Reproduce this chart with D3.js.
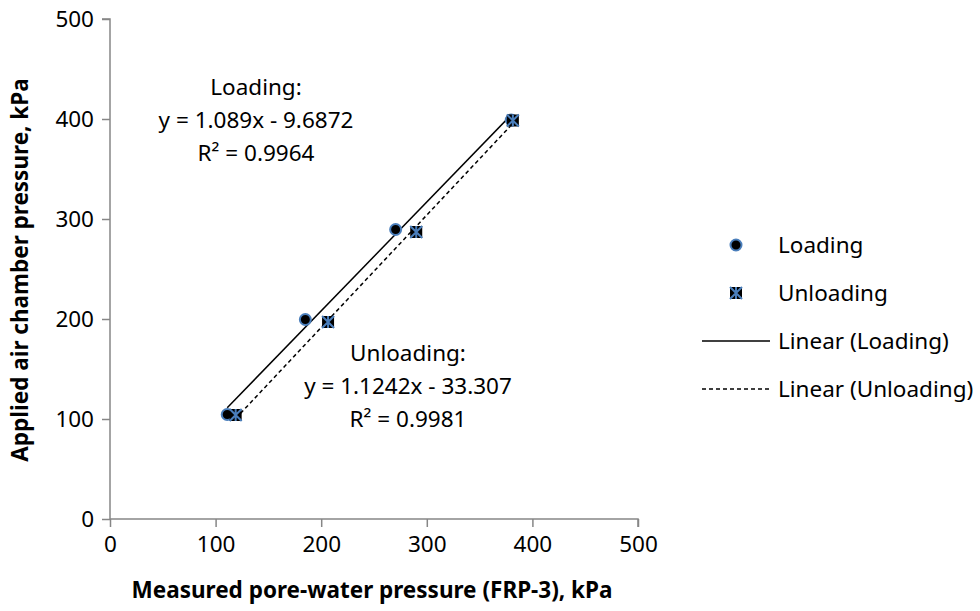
<!DOCTYPE html>
<html>
<head>
<meta charset="utf-8">
<script src="https://cdn.jsdelivr.net/npm/d3@7"></script>
<style>
  body { margin: 0; background: #fff; }
  text { font-family: "Noto Sans", sans-serif; fill: #000; }
</style>
</head>
<body>
<div id="chart"></div>
<script>
// data
var loadingX = [111, 185, 270.5, 380],
    loadingY = [104.5, 199.5, 289.5, 399];
var unloadingX = [119, 206.5, 290, 381.5],
    unloadingY = [104, 197, 287, 398.5];

// trendline coefficients as printed on the chart
var loadingFit = {slope: 1.089, intercept: -9.6872, r2: "0.9964"},
    unloadingFit = {slope: 1.1242, intercept: -33.307, r2: "0.9981"};

var xTicks = [0, 100, 200, 300, 400, 500],
    yTicks = [0, 100, 200, 300, 400, 500];

var legendItems = ["Loading", "Unloading", "Linear (Loading)", "Linear (Unloading)"];

var width = 980, height = 611;
var margin = {top: 19, left: 110, right: 342, bottom: 92};
var fontSize = '22.5px';

var svg = d3.select('#chart').append('svg')
  .attr('width', width)
  .attr('height', height);

var x = d3.scaleLinear().domain([0, 500]).range([margin.left, width - margin.right]);
var y = d3.scaleLinear().domain([0, 500]).range([height - margin.bottom, margin.top]);

var axisColor = '#868686',
    blue = '#4a7ebb';

var xAxis = d3.axisBottom(x).tickValues(xTicks).tickSize(8).tickSizeOuter(8).tickPadding(10);
var yAxis = d3.axisLeft(y).tickValues(yTicks).tickSize(8).tickSizeOuter(8).tickPadding(10);

var gx = svg.append('g')
  .attr('transform', 'translate(0,' + y(0) + ')')
  .call(xAxis);
var gy = svg.append('g')
  .attr('transform', 'translate(' + x(0) + ',0)')
  .call(yAxis);

[gx, gy].forEach(function(g){
  g.select('.domain').attr('stroke', axisColor).attr('stroke-width', 1.5);
  g.selectAll('.tick line').attr('stroke', axisColor).attr('stroke-width', 1.5);
  g.selectAll('.tick text').style('font-size', fontSize).attr('fill', '#000')
    .style('font-family', '"Noto Sans", sans-serif');
});
gy.selectAll('.tick text').attr('x', -16);
gx.selectAll('.tick text').attr('y', 17);
// Excel style domain
gy.select('.domain').attr('d', 'M-8,' + y(500) + 'H0V' + y(0));
gx.select('.domain').attr('d', 'M' + x(0) + ',0H' + x(500) + 'V8');

// axis titles
svg.append('text')
  .attr('x', x(250) - 2)
  .attr('y', 598)
  .attr('text-anchor', 'middle')
  .style('font-size', fontSize)
  .style('font-weight', 'bold')
  .text('Measured pore-water pressure (FRP-3), kPa');

svg.append('text')
  .attr('transform', 'translate(28,' + (y(250) + 1) + ') rotate(-90)')
  .attr('text-anchor', 'middle')
  .style('font-size', fontSize)
  .style('font-weight', 'bold')
  .text('Applied air chamber pressure, kPa');

// trendlines over the data range
function trend(xs, fit){
  var ext = d3.extent(xs);
  return ext.map(function(v){ return [x(v), y(fit.slope * v + fit.intercept)]; });
}
var line = d3.line();

svg.append('path')
  .attr('d', line(trend(loadingX, loadingFit)))
  .attr('stroke', '#000').attr('stroke-width', 1.5).attr('fill', 'none');

svg.append('path')
  .attr('d', line(trend(unloadingX, unloadingFit)))
  .attr('stroke', '#000').attr('stroke-width', 1.5).attr('fill', 'none')
  .attr('stroke-dasharray', '4,3');

// markers
function circleMarker(g){
  g.append('circle').attr('r', 5.5)
    .attr('fill', '#000').attr('stroke', blue).attr('stroke-width', 2);
}
function starMarker(g){
  var s = 6;
  g.append('rect').attr('x', -s).attr('y', -s).attr('width', 2*s).attr('height', 2*s)
    .attr('fill', '#000');
  g.append('path')
    .attr('d', 'M' + (-s) + ',' + (-s) + 'L' + s + ',' + s +
               'M' + (-s) + ',' + s + 'L' + s + ',' + (-s) +
               'M0,' + (-s) + 'V' + s)
    .attr('stroke', blue).attr('stroke-width', 2).attr('fill', 'none');
}

loadingX.forEach(function(v, i){
  svg.append('g').attr('transform', 'translate(' + x(v) + ',' + y(loadingY[i]) + ')').call(circleMarker);
});
unloadingX.forEach(function(v, i){
  svg.append('g').attr('transform', 'translate(' + x(v) + ',' + y(unloadingY[i]) + ')').call(starMarker);
});

// equation labels
function eqLabel(cx, cy, title, fit){
  var sign = fit.intercept < 0 ? ' - ' : ' + ';
  var lines = [title + ':',
               'y = ' + fit.slope + 'x' + sign + Math.abs(fit.intercept),
               'R\u00B2 = ' + fit.r2];
  var t = svg.append('text')
    .attr('text-anchor', 'middle')
    .style('font-size', fontSize);
  lines.forEach(function(s, i){
    t.append('tspan').attr('x', cx).attr('y', cy + i * 33).text(s);
  });
}
eqLabel(256, 95, 'Loading', loadingFit);
eqLabel(408, 361, 'Unloading', unloadingFit);

// legend
var legend = svg.append('g').attr('transform', 'translate(702,245)');
legendItems.forEach(function(name, i){
  var g = legend.append('g').attr('transform', 'translate(0,' + (i * 48) + ')');
  if (i === 0) g.append('g').attr('transform', 'translate(34,0)').call(circleMarker);
  if (i === 1) g.append('g').attr('transform', 'translate(34,0)').call(starMarker);
  if (i >= 2) {
    g.append('line').attr('x1', 0).attr('x2', 68).attr('y1', 0).attr('y2', 0)
      .attr('stroke', '#000').attr('stroke-width', 1.5)
      .attr('stroke-dasharray', i === 3 ? '4,3' : null);
  }
  g.append('text').attr('x', 76).attr('y', 8).style('font-size', fontSize).text(name);
});
</script>
</body>
</html>
